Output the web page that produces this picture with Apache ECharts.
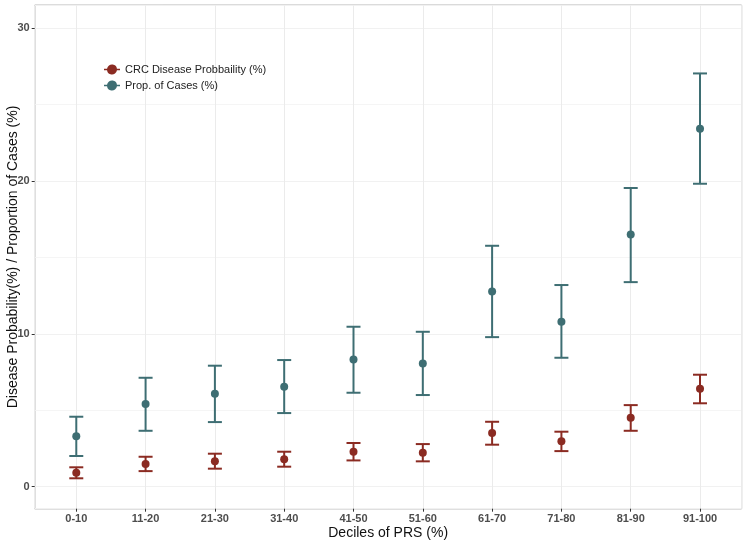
<!DOCTYPE html>
<html><head><meta charset="utf-8">
<script src="https://cdn.jsdelivr.net/npm/echarts@6/dist/echarts.min.js"></script>
<style>html,body{margin:0;padding:0;background:#fff}#c{width:747px;height:543px}</style>
</head><body><div id="c"></div>
<script>
const categories = ['0-10','11-20','21-30','31-40','41-50','51-60','61-70','71-80','81-90','91-100'];
const probMean  = [0.90, 1.47, 1.65, 1.78, 2.28, 2.21, 3.50, 2.96, 4.50, 6.40];
const probLow   = [0.54, 1.01, 1.17, 1.30, 1.71, 1.65, 2.74, 2.32, 3.65, 5.45];
const probHigh  = [1.26, 1.95, 2.15, 2.28, 2.85, 2.78, 4.24, 3.59, 5.33, 7.32];
const casesMean = [3.30, 5.40, 6.07, 6.53, 8.32, 8.06, 12.77, 10.79, 16.49, 23.42];
const casesLow  = [2.00, 3.65, 4.22, 4.81, 6.14, 5.99, 9.78, 8.43, 13.38, 19.82];
const casesHigh = [4.57, 7.12, 7.91, 8.28, 10.46, 10.13, 15.76, 13.19, 19.54, 27.04];
const yTicks = [0, 10, 20, 30];

const RED = '#8B2B22', TEAL = '#3E6E73';
const FONT = 'Liberation Sans, Arial, sans-serif';

function errData(lo, hi) { return lo.map((v, i) => [i, v, hi[i]]); }
function ptData(m) { return m.map((v, i) => [i, v]); }

function errRender(color) {
  return function (params, api) {
    const x = api.value(0);
    const lo = api.coord([x, api.value(1)]);
    const hi = api.coord([x, api.value(2)]);
    const hw = 7;
    const st = { stroke: color, lineWidth: 2 };
    return { type: 'group', children: [
      { type: 'line', shape: { x1: lo[0], y1: lo[1], x2: hi[0], y2: hi[1] }, style: st },
      { type: 'line', shape: { x1: lo[0] - hw, y1: lo[1], x2: lo[0] + hw, y2: lo[1] }, style: st },
      { type: 'line', shape: { x1: hi[0] - hw, y1: hi[1], x2: hi[0] + hw, y2: hi[1] }, style: st }
    ]};
  };
}

const icon = 'path://M0 4.3H3.05A5 5 0 0 1 12.95 4.3H16V5.7H12.95A5 5 0 0 1 3.05 5.7H0Z';

const chart = echarts.init(document.getElementById('c'), null, { renderer: 'canvas' });
chart.setOption({
  animation: false,
  backgroundColor: '#fff',
  grid: { left: 34.7, right: 5.4, top: 5.3, bottom: 34.3, containLabel: false, outerBoundsMode: 'none',
          show: true, borderColor: '#555', borderWidth: 1, backgroundColor: 'transparent' },
  legend: {
    left: 99, top: 59, orient: 'vertical', itemGap: 5, itemWidth: 16, itemHeight: 10,
    textStyle: { fontFamily: FONT, fontSize: 11, color: '#222' },
    data: [
      { name: 'CRC Disease Probbaility (%)', icon: icon, itemStyle: { color: RED } },
      { name: 'Prop. of Cases (%)', icon: icon, itemStyle: { color: TEAL } }
    ]
  },
  xAxis: {
    type: 'value', min: -0.6, max: 9.6, splitNumber: 10, position: 'bottom',
    name: 'Deciles of PRS (%)', nameLocation: 'middle', nameGap: 17, nameMoveOverlap: false,
    nameTextStyle: { fontFamily: FONT, fontSize: 14, color: '#111' },
    axisLine: { show: false, onZero: false },
    axisTick: { show: true, length: 3, inside: false, lineStyle: { color: '#333' } },
    axisLabel: {
      showMinLabel: false, showMaxLabel: false, margin: 5,
      fontFamily: FONT, fontSize: 11, fontWeight: 'bold', color: '#4d4d4d',
      formatter: v => (Number.isInteger(v) && categories[v] !== undefined) ? categories[v] : ''
    },
    splitLine: { show: true, lineStyle: { color: '#ebebeb', width: 1 } }
  },
  yAxis: [{
    type: 'value', min: -1.45, max: 31.5, splitNumber: 3, position: 'left',
    name: 'Disease Probability(%) / Proportion of Cases (%)', nameLocation: 'middle', nameGap: 15, nameMoveOverlap: false,
    nameTextStyle: { fontFamily: FONT, fontSize: 14, color: '#111' },
    axisLine: { show: false, onZero: false },
    axisTick: { show: true, length: 3, inside: false, lineStyle: { color: '#333' } },
    axisLabel: {
      showMinLabel: false, showMaxLabel: false, margin: 5,
      fontFamily: FONT, fontSize: 11, fontWeight: 'bold', color: '#4d4d4d',
      formatter: v => yTicks.includes(v) ? String(v) : ''
    },
    splitLine: { show: true, lineStyle: { color: '#ebebeb', width: 1.2 } }
  }, {
    type: 'value', min: -1.45, max: 31.5, splitNumber: 6, position: 'left',
    axisLine: { show: false, onZero: false }, axisTick: { show: false }, axisLabel: { show: false },
    splitLine: { show: true, lineStyle: { color: '#f3f3f3', width: 0.8 } }
  }],
  series: [
    { name: 'CRC Disease Probbaility (%)', type: 'custom', renderItem: errRender(RED), data: errData(probLow, probHigh), encode: { x: 0, y: [1, 2] }, z: 3 },
    { name: 'CRC Disease Probbaility (%)', type: 'scatter', data: ptData(probMean), symbolSize: 8, itemStyle: { color: RED, opacity: 1 }, z: 4 },
    { name: 'Prop. of Cases (%)', type: 'custom', renderItem: errRender(TEAL), data: errData(casesLow, casesHigh), encode: { x: 0, y: [1, 2] }, z: 3 },
    { name: 'Prop. of Cases (%)', type: 'scatter', data: ptData(casesMean), symbolSize: 8, itemStyle: { color: TEAL, opacity: 1 }, z: 4 }
  ]
});
</script></body></html>
